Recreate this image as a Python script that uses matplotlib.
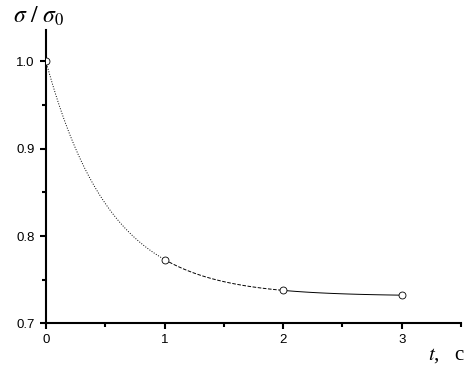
"""
Relaxation of sigma/sigma0 with time: measured points plus fitted decay curve.
"""

import numpy as np
import matplotlib
matplotlib.use('Agg')
import matplotlib.pyplot as plt
from matplotlib.ticker import MultipleLocator, FormatStrFormatter


# ── data ──────────────────────────────────────────────────────────────────────

t_points     = [0.0, 1.0, 2.0, 3.0]
ratio_points = [1.000, 0.773, 0.738, 0.732]

x_ticks = [0, 1, 2, 3]
y_ticks = [0.7, 0.8, 0.9, 1.0]


# ── fit  y = a + b * exp(-k t) to the measured points ────────────────────────

def fit_decay(t, y):
    t = np.asarray(t)
    y = np.asarray(y)
    best = None
    for k in np.linspace(0.2, 5.0, 961):
        A = np.column_stack([np.ones_like(t), np.exp(-k * t)])
        coef, *_ = np.linalg.lstsq(A, y, rcond=None)
        err = np.sum((A @ coef - y) ** 2)
        if best is None or err < best[0]:
            best = (err, coef[0], coef[1], k)
    return best[1:]


a, b, k = fit_decay(t_points, ratio_points)


def model(t):
    return a + b * np.exp(-k * t)


# ── plot ──────────────────────────────────────────────────────────────────────

plt.rcParams['mathtext.fontset'] = 'stix'

fig = plt.figure(figsize=(4.77, 3.70), dpi=100)
ax = fig.add_axes([46 / 477, 1 - 323.3 / 370, (461 - 46) / 477, (323.3 - 30) / 370])

# the curve looks dotted at first, then dashed, then solid
segments = [(0.0, 1.0, ':'), (1.0, 2.0, '--'), (2.0, 3.0, '-')]
for t0, t1, ls in segments:
    tt = np.linspace(t0, t1, 100)
    ax.plot(tt, model(tt), color='black', linewidth=0.7, linestyle=ls)

ax.plot(t_points, ratio_points, linestyle='none', marker='o', markersize=5,
        markerfacecolor='white', markeredgecolor='black', markeredgewidth=0.6,
        zorder=3)

ax.set_xlim(0, 3.5)
ax.set_ylim(0.7, 1.036)

ax.set_xticks(x_ticks)
ax.set_yticks(y_ticks)
ax.xaxis.set_minor_locator(MultipleLocator(0.5))
ax.yaxis.set_minor_locator(MultipleLocator(0.05))
ax.yaxis.set_major_formatter(FormatStrFormatter('%.1f'))

for side in ('top', 'right'):
    ax.spines[side].set_visible(False)
for side in ('left', 'bottom'):
    ax.spines[side].set_linewidth(1.5)

ax.tick_params(which='major', direction='out', length=4, width=1.5,
               labelsize=9.5, pad=4)
ax.tick_params(which='minor', direction='out', length=3, width=1.5)
for lbl in ax.get_xticklabels() + ax.get_yticklabels():
    lbl.set_family('Liberation Sans')

fig.text(0.028, 0.958, r'$\sigma\ /\ \sigma_0$', fontsize=17, ha='left', va='center')
fig.text(0.898, 0.04, r'$t$' + ',   с', fontsize=15, ha='left', va='center',
         family='Liberation Serif')

fig.savefig('out.png', dpi=100, facecolor='white')
